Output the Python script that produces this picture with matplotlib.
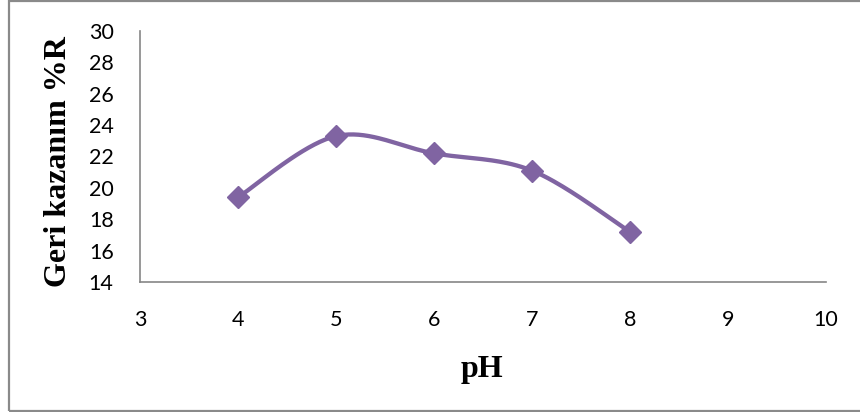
import numpy as np
import matplotlib
matplotlib.use("Agg")
import matplotlib.pyplot as plt
from matplotlib.patches import Rectangle

# recovery (%R) measured at each pH
ph = [4, 5, 6, 7, 8]
recovery = [19.4, 23.3, 22.2, 21.1, 17.2]

x_ticks = [3, 4, 5, 6, 7, 8, 9, 10]
y_ticks = [14, 16, 18, 20, 22, 24, 26, 28, 30]

PURPLE = "#8064A2"
GREY = "#868686"


def smooth_curve(xs, ys, n=40):
    """Catmull-Rom style smoothing through every point (like a spreadsheet smoothed line)."""
    pts = np.column_stack([xs, ys]).astype(float)
    padded = np.vstack([pts[0], pts, pts[-1]])
    out = []
    for i in range(1, len(padded) - 2):
        p0, p1, p2, p3 = padded[i - 1], padded[i], padded[i + 1], padded[i + 2]
        c1 = p1 + (p2 - p0) / 6.0
        c2 = p2 - (p3 - p1) / 6.0
        t = np.linspace(0, 1, n)[:, None]
        seg = ((1 - t) ** 3) * p1 + 3 * ((1 - t) ** 2) * t * c1 + 3 * (1 - t) * t ** 2 * c2 + t ** 3 * p2
        out.append(seg if i == 1 else seg[1:])
    curve = np.vstack(out)
    return curve[:, 0], curve[:, 1]


fig = plt.figure(figsize=(8.6, 4.12), dpi=100)
ax = fig.add_axes([140 / 860, 1 - 282 / 412, 686 / 860, 251 / 412])

cx, cy = smooth_curve(ph, recovery)
ax.plot(cx, cy, color=PURPLE, lw=3.1, solid_capstyle="round", zorder=2)
ax.plot(ph, recovery, linestyle="none", marker="D", markersize=11.5,
        color=PURPLE, markeredgecolor=PURPLE, zorder=3)

ax.set_xlim(3, 10)
ax.set_ylim(14, 30)
ax.set_xticks(x_ticks)
ax.set_yticks(y_ticks)
ax.tick_params(length=0, labelsize=15.5, colors="black")
ax.tick_params(axis="y", pad=19)
ax.tick_params(axis="x", pad=20)
for lab in ax.get_xticklabels() + ax.get_yticklabels():
    lab.set_family("Lato")

for side in ["top", "right"]:
    ax.spines[side].set_visible(False)
for side in ["left", "bottom"]:
    ax.spines[side].set_color(GREY)
    ax.spines[side].set_linewidth(1.2)

fig.text(58 / 860, 1 - 162 / 412, "Geri kazanım %R", rotation=90,
         ha="center", va="center", fontsize=23, fontweight="bold",
         family="Liberation Serif")
fig.text(482 / 860, 1 - 377 / 412, "pH", ha="center", va="baseline",
         fontsize=23, fontweight="bold", family="Liberation Serif")

# chart frame
fig.patches.append(Rectangle((8.5 / 860, 1.5 / 412), 1.0, 1 - 2.5 / 412,
                             transform=fig.transFigure, fill=False,
                             edgecolor="#8a8a8a", linewidth=1.6))

fig.savefig("out.png", dpi=100)
